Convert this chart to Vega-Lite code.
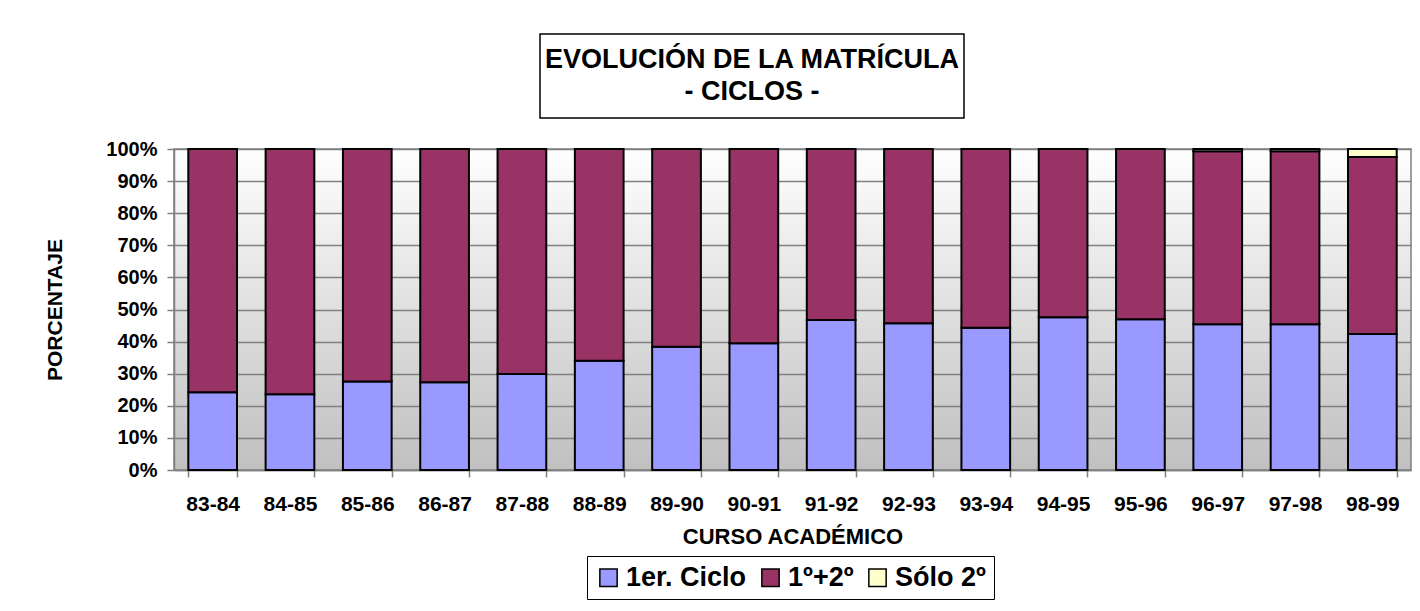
{
 "$schema": "https://vega.github.io/schema/vega-lite/v6.json",
 "padding": {"left": 44, "top": 33, "right": 5, "bottom": 5},
 "background": "white",
 "config": {"font": "Liberation Sans"},
 "spacing": 19,
 "vconcat": [
  {
   "spacing": 0,
   "hconcat": [
    {
     "width": 365,
     "height": 84,
     "view": {"stroke": null},
     "data": {"values": [{}]},
     "mark": {"type": "point", "opacity": 0},
     "encoding": {}
    },
    {
     "width": 424,
     "height": 84,
     "view": {"stroke": "black", "strokeWidth": 1.5, "fill": "white"},
     "data": {"values": [
       {"linea": 1, "texto": "EVOLUCIÓN DE LA MATRÍCULA"},
       {"linea": 2, "texto": "- CICLOS -"}
     ]},
     "mark": {"type": "text", "font": "Liberation Sans", "fontWeight": "bold", "fontSize": 27, "color": "black"},
     "encoding": {
       "y": {"field": "linea", "type": "ordinal", "scale": {"padding": 0.8125}, "axis": null},
       "text": {"field": "texto"}
     }
    }
   ]
  },
  {
   "width": 1237,
   "height": 321,
   "view": {"stroke": "#808080", "strokeWidth": 1.5,
            "fill": {"gradient": "linear", "x1": 0, "y1": 0, "x2": 0, "y2": 1,
                     "stops": [{"offset": 0, "color": "#ffffff"}, {"offset": 1, "color": "#c0c0c0"}]}},
   "data": {"values": [
     {"curso": "83-84", "serie": "1er. Ciclo", "orden": 1, "valor": 24.2},
     {"curso": "83-84", "serie": "1º+2º", "orden": 2, "valor": 75.8},
     {"curso": "84-85", "serie": "1er. Ciclo", "orden": 1, "valor": 23.6},
     {"curso": "84-85", "serie": "1º+2º", "orden": 2, "valor": 76.4},
     {"curso": "85-86", "serie": "1er. Ciclo", "orden": 1, "valor": 27.6},
     {"curso": "85-86", "serie": "1º+2º", "orden": 2, "valor": 72.4},
     {"curso": "86-87", "serie": "1er. Ciclo", "orden": 1, "valor": 27.3},
     {"curso": "86-87", "serie": "1º+2º", "orden": 2, "valor": 72.7},
     {"curso": "87-88", "serie": "1er. Ciclo", "orden": 1, "valor": 29.9},
     {"curso": "87-88", "serie": "1º+2º", "orden": 2, "valor": 70.1},
     {"curso": "88-89", "serie": "1er. Ciclo", "orden": 1, "valor": 34.0},
     {"curso": "88-89", "serie": "1º+2º", "orden": 2, "valor": 66.0},
     {"curso": "89-90", "serie": "1er. Ciclo", "orden": 1, "valor": 38.4},
     {"curso": "89-90", "serie": "1º+2º", "orden": 2, "valor": 61.6},
     {"curso": "90-91", "serie": "1er. Ciclo", "orden": 1, "valor": 39.5},
     {"curso": "90-91", "serie": "1º+2º", "orden": 2, "valor": 60.5},
     {"curso": "91-92", "serie": "1er. Ciclo", "orden": 1, "valor": 46.7},
     {"curso": "91-92", "serie": "1º+2º", "orden": 2, "valor": 53.3},
     {"curso": "92-93", "serie": "1er. Ciclo", "orden": 1, "valor": 45.7},
     {"curso": "92-93", "serie": "1º+2º", "orden": 2, "valor": 54.3},
     {"curso": "93-94", "serie": "1er. Ciclo", "orden": 1, "valor": 44.3},
     {"curso": "93-94", "serie": "1º+2º", "orden": 2, "valor": 55.7},
     {"curso": "94-95", "serie": "1er. Ciclo", "orden": 1, "valor": 47.6},
     {"curso": "94-95", "serie": "1º+2º", "orden": 2, "valor": 52.4},
     {"curso": "95-96", "serie": "1er. Ciclo", "orden": 1, "valor": 47.0},
     {"curso": "95-96", "serie": "1º+2º", "orden": 2, "valor": 53.0},
     {"curso": "96-97", "serie": "1er. Ciclo", "orden": 1, "valor": 45.4},
     {"curso": "96-97", "serie": "1º+2º", "orden": 2, "valor": 53.9},
     {"curso": "96-97", "serie": "Sólo 2º", "orden": 3, "valor": 0.7},
     {"curso": "97-98", "serie": "1er. Ciclo", "orden": 1, "valor": 45.4},
     {"curso": "97-98", "serie": "1º+2º", "orden": 2, "valor": 53.9},
     {"curso": "97-98", "serie": "Sólo 2º", "orden": 3, "valor": 0.7},
     {"curso": "98-99", "serie": "1er. Ciclo", "orden": 1, "valor": 42.4},
     {"curso": "98-99", "serie": "1º+2º", "orden": 2, "valor": 55.1},
     {"curso": "98-99", "serie": "Sólo 2º", "orden": 3, "valor": 2.5}
   ]},
   "mark": {"type": "bar", "stroke": "black", "strokeWidth": 2},
   "encoding": {
     "x": {"field": "curso", "type": "nominal", "sort": null,
           "scale": {"paddingInner": 0.37, "paddingOuter": 0.185},
           "axis": {"title": "CURSO ACADÉMICO", "titleFontSize": 22, "titleFontWeight": "bold", "titleColor": "black", "titlePadding": 12,
                    "labelAngle": 0, "labelFontSize": 21, "labelFontWeight": "bold", "labelColor": "black", "labelPadding": 16,
                    "tickBand": "extent", "tickSize": 7, "tickColor": "#808080", "tickWidth": 1.5,
                    "domainColor": "#808080", "domainWidth": 1.5, "grid": false, "labelOverlap": false, "labelFlush": false}},
     "y": {"field": "valor", "type": "quantitative", "stack": "normalize",
           "scale": {"domain": [0, 1]},
           "axis": {"title": "PORCENTAJE", "titleFontSize": 21, "titleFontWeight": "bold", "titleColor": "black", "titlePadding": 40,
                    "format": ".0%", "values": [0, 0.1, 0.2, 0.3, 0.4, 0.5, 0.6, 0.7, 0.8, 0.9, 1],
                    "labelFontSize": 20, "labelFontWeight": "bold", "labelColor": "black", "labelPadding": 10, "labelFlush": false,
                    "tickSize": 7, "tickColor": "#808080", "tickWidth": 1.5,
                    "domainColor": "#808080", "domainWidth": 1.5,
                    "grid": true, "gridColor": "#808080", "gridWidth": 1.5}},
     "color": {"field": "serie", "type": "nominal",
               "scale": {"domain": ["1er. Ciclo", "1º+2º", "Sólo 2º"], "range": ["#9999ff", "#993366", "#ffffcc"]},
               "legend": {"title": null, "orient": "none", "legendX": 413, "legendY": 522, "direction": "horizontal", "strokeColor": "black", "padding": 8,
                          "symbolType": "square", "symbolSize": 300, "symbolStrokeColor": "black", "symbolStrokeWidth": 1.5, "symbolOpacity": 1,
                          "labelFontSize": 27, "labelFontWeight": "bold", "labelColor": "black", "columnPadding": 10, "labelOffset": 4}},
     "order": {"field": "orden", "type": "quantitative"}
   }
  }
 ]
}
